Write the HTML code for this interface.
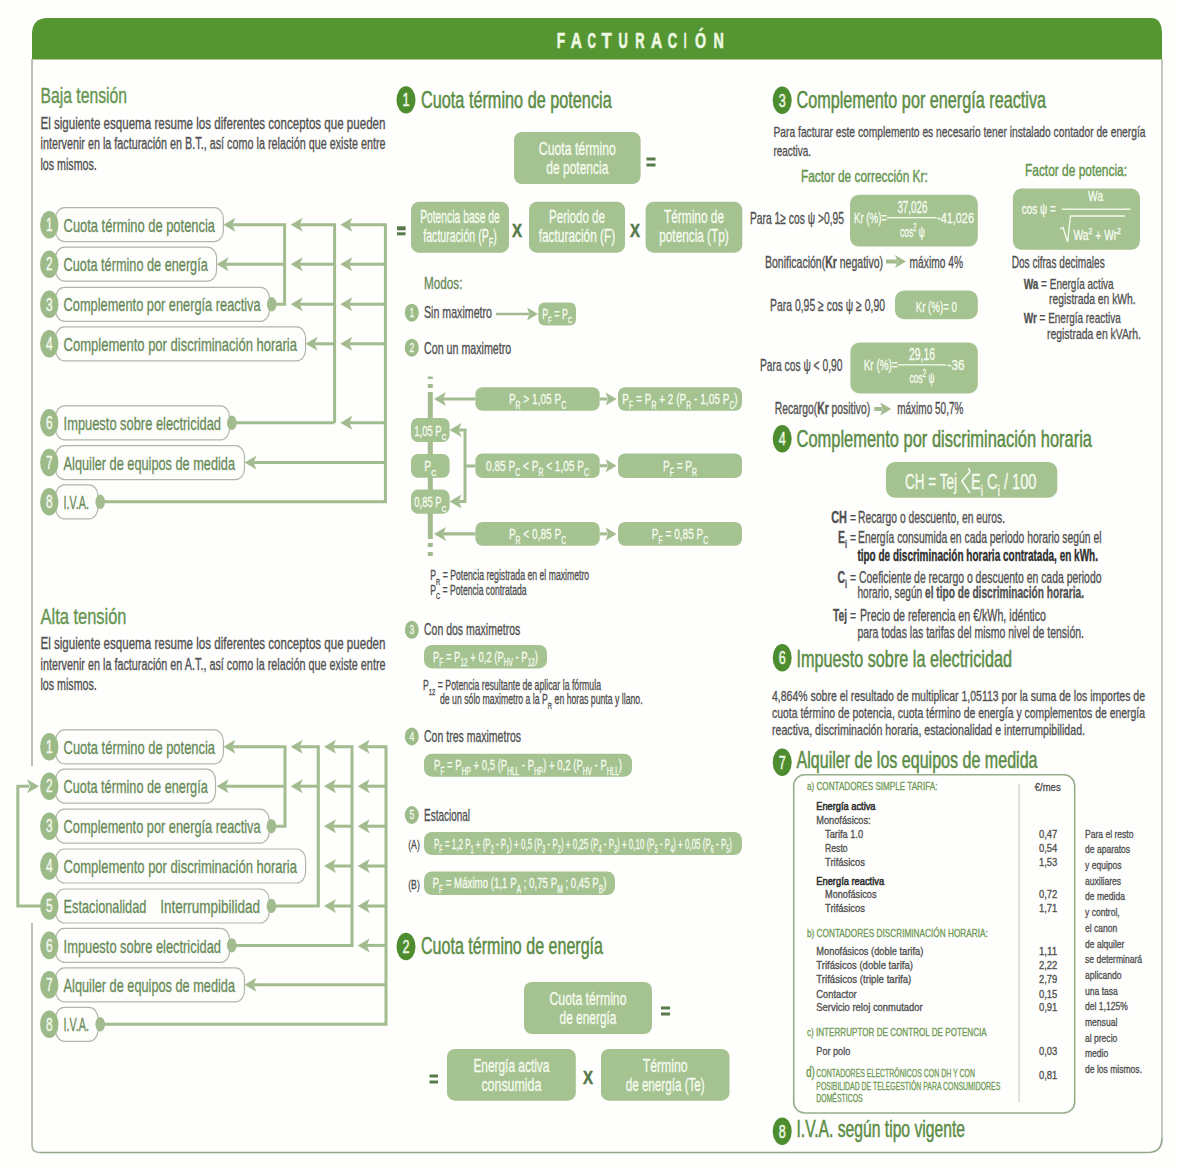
<!DOCTYPE html>
<html><head><meta charset="utf-8"><style>
html,body{margin:0;padding:0;background:#fff;}
svg{display:block;font-family:"Liberation Sans",sans-serif;}
</style></head><body>
<svg width="1179" height="1171" viewBox="0 0 1179 1171">
<rect width="1179" height="1171" fill="#fefefc"/>
<path d="M32 59.5 L32 34 Q32 18 48 18 L1151 18 Q1162 18 1162 34 L1162 59.5 Z" fill="#559632"/>
<text x="561.00" y="48.30" font-size="21.94" fill="#eef9e2" stroke="#eef9e2" stroke-width="0.6" font-weight="bold" text-anchor="middle" textLength="8.40" lengthAdjust="spacingAndGlyphs"><tspan>F</tspan></text>
<text x="576.40" y="48.30" font-size="21.94" fill="#eef9e2" stroke="#eef9e2" stroke-width="0.6" font-weight="bold" text-anchor="middle" textLength="11.20" lengthAdjust="spacingAndGlyphs"><tspan>A</tspan></text>
<text x="591.80" y="48.30" font-size="21.94" fill="#eef9e2" stroke="#eef9e2" stroke-width="0.6" font-weight="bold" text-anchor="middle" textLength="8.40" lengthAdjust="spacingAndGlyphs"><tspan>C</tspan></text>
<text x="606.70" y="48.30" font-size="21.94" fill="#eef9e2" stroke="#eef9e2" stroke-width="0.6" font-weight="bold" text-anchor="middle" textLength="10.20" lengthAdjust="spacingAndGlyphs"><tspan>T</tspan></text>
<text x="623.05" y="48.30" font-size="21.94" fill="#eef9e2" stroke="#eef9e2" stroke-width="0.6" font-weight="bold" text-anchor="middle" textLength="9.30" lengthAdjust="spacingAndGlyphs"><tspan>U</tspan></text>
<text x="639.85" y="48.30" font-size="21.94" fill="#eef9e2" stroke="#eef9e2" stroke-width="0.6" font-weight="bold" text-anchor="middle" textLength="9.30" lengthAdjust="spacingAndGlyphs"><tspan>R</tspan></text>
<text x="656.60" y="48.30" font-size="21.94" fill="#eef9e2" stroke="#eef9e2" stroke-width="0.6" font-weight="bold" text-anchor="middle" textLength="11.20" lengthAdjust="spacingAndGlyphs"><tspan>A</tspan></text>
<text x="672.50" y="48.30" font-size="21.94" fill="#eef9e2" stroke="#eef9e2" stroke-width="0.6" font-weight="bold" text-anchor="middle" textLength="9.40" lengthAdjust="spacingAndGlyphs"><tspan>C</tspan></text>
<text x="685.10" y="48.30" font-size="21.94" fill="#eef9e2" stroke="#eef9e2" stroke-width="0.6" font-weight="bold" text-anchor="middle" textLength="2.80" lengthAdjust="spacingAndGlyphs"><tspan>I</tspan></text>
<text x="700.45" y="48.30" font-size="21.94" fill="#eef9e2" stroke="#eef9e2" stroke-width="0.6" font-weight="bold" text-anchor="middle" textLength="11.10" lengthAdjust="spacingAndGlyphs"><tspan>Ó</tspan></text>
<text x="718.65" y="48.30" font-size="21.94" fill="#eef9e2" stroke="#eef9e2" stroke-width="0.6" font-weight="bold" text-anchor="middle" textLength="10.30" lengthAdjust="spacingAndGlyphs"><tspan>N</tspan></text>
<path d="M32 59 L32 766" stroke="#a9b5a3" stroke-width="1.6" fill="none"/>
<path d="M32 923 L32 1145 Q32 1152.5 39.5 1152.5" stroke="#a9b5a3" stroke-width="1.6" fill="none"/>
<path d="M39.5 1152.5 L1148 1152.5 Q1162 1152.5 1162 1138" stroke="#93a58a" stroke-width="1.6" fill="none"/>
<path d="M1162 1138 L1162 59" stroke="#b7bdb1" stroke-width="1.6" fill="none"/>
<text x="40.50" y="102.90" font-size="22.79" fill="#669650" stroke="#669650" stroke-width="0.4" textLength="86.50" lengthAdjust="spacingAndGlyphs"><tspan>Baja tensión</tspan></text>
<text x="40.50" y="128.90" font-size="15.77" fill="#505050" stroke="#505050" stroke-width="0.32" textLength="345.00" lengthAdjust="spacingAndGlyphs"><tspan>El siguiente esquema resume los diferentes conceptos que pueden</tspan></text>
<text x="40.50" y="149.40" font-size="15.77" fill="#505050" stroke="#505050" stroke-width="0.32" textLength="345.00" lengthAdjust="spacingAndGlyphs"><tspan>intervenir en la facturación en B.T., así como la relación que existe entre</tspan></text>
<text x="40.50" y="170.00" font-size="15.77" fill="#505050" stroke="#505050" stroke-width="0.32" textLength="56.20" lengthAdjust="spacingAndGlyphs"><tspan>los mismos.</tspan></text>
<path d="M232.40 224.70 L284.60 224.70 L284.60 304.30 L272.00 304.30" fill="none" stroke="#a3bc8f" stroke-width="3" stroke-linejoin="miter" stroke-linecap="butt"/>
<path d="M334.60 422.80 L232.00 422.80" fill="none" stroke="#a3bc8f" stroke-width="3" stroke-linejoin="miter" stroke-linecap="butt"/>
<path d="M284.60 264.20 L225.60 264.20" fill="none" stroke="#a3bc8f" stroke-width="3" stroke-linejoin="miter" stroke-linecap="butt"/>
<path d="M223.40 224.70 L235.40 217.70 L232.40 224.70 L235.40 231.70Z" fill="#a3bc8f"/>
<path d="M216.60 264.20 L228.60 257.20 L225.60 264.20 L228.60 271.20Z" fill="#a3bc8f"/>
<path d="M299.70 224.70 L334.60 224.70 L334.60 422.80" fill="none" stroke="#a3bc8f" stroke-width="3" stroke-linejoin="miter" stroke-linecap="butt"/>
<path d="M334.60 264.20 L299.70 264.20" fill="none" stroke="#a3bc8f" stroke-width="3" stroke-linejoin="miter" stroke-linecap="butt"/>
<path d="M290.70 264.20 L302.70 257.20 L299.70 264.20 L302.70 271.20Z" fill="#a3bc8f"/>
<path d="M334.60 304.30 L299.70 304.30" fill="none" stroke="#a3bc8f" stroke-width="3" stroke-linejoin="miter" stroke-linecap="butt"/>
<path d="M290.70 304.30 L302.70 297.30 L299.70 304.30 L302.70 311.30Z" fill="#a3bc8f"/>
<path d="M290.70 224.70 L302.70 217.70 L299.70 224.70 L302.70 231.70Z" fill="#a3bc8f"/>
<path d="M334.60 343.80 L314.60 343.80" fill="none" stroke="#a3bc8f" stroke-width="3" stroke-linejoin="miter" stroke-linecap="butt"/>
<path d="M305.60 343.80 L317.60 336.80 L314.60 343.80 L317.60 350.80Z" fill="#a3bc8f"/>
<path d="M349.30 224.70 L385.40 224.70 L385.40 501.80 L100.00 501.80" fill="none" stroke="#a3bc8f" stroke-width="3" stroke-linejoin="miter" stroke-linecap="butt"/>
<path d="M340.30 224.70 L352.30 217.70 L349.30 224.70 L352.30 231.70Z" fill="#a3bc8f"/>
<path d="M385.40 264.20 L349.30 264.20" fill="none" stroke="#a3bc8f" stroke-width="3" stroke-linejoin="miter" stroke-linecap="butt"/>
<path d="M340.30 264.20 L352.30 257.20 L349.30 264.20 L352.30 271.20Z" fill="#a3bc8f"/>
<path d="M385.40 304.30 L349.30 304.30" fill="none" stroke="#a3bc8f" stroke-width="3" stroke-linejoin="miter" stroke-linecap="butt"/>
<path d="M340.30 304.30 L352.30 297.30 L349.30 304.30 L352.30 311.30Z" fill="#a3bc8f"/>
<path d="M385.40 343.80 L349.30 343.80" fill="none" stroke="#a3bc8f" stroke-width="3" stroke-linejoin="miter" stroke-linecap="butt"/>
<path d="M340.30 343.80 L352.30 336.80 L349.30 343.80 L352.30 350.80Z" fill="#a3bc8f"/>
<path d="M385.40 422.80 L349.30 422.80" fill="none" stroke="#a3bc8f" stroke-width="3" stroke-linejoin="miter" stroke-linecap="butt"/>
<path d="M340.30 422.80 L352.30 415.80 L349.30 422.80 L352.30 429.80Z" fill="#a3bc8f"/>
<path d="M385.40 462.60 L253.50 462.60" fill="none" stroke="#a3bc8f" stroke-width="3" stroke-linejoin="miter" stroke-linecap="butt"/>
<path d="M244.50 462.60 L256.50 455.60 L253.50 462.60 L256.50 469.60Z" fill="#a3bc8f"/>
<rect x="55.50" y="207.70" width="167.90" height="34.00" rx="9" ry="11" fill="#fdfefb" stroke="#b0b7aa" stroke-width="1.2"/>
<ellipse cx="49.30" cy="224.70" rx="9.2" ry="13.8" fill="#9dbb89"/>
<text x="49.30" y="230.90" font-size="18.19" fill="#f4f9ee" stroke="#f4f9ee" stroke-width="0.45" text-anchor="middle" textLength="6.62" lengthAdjust="spacingAndGlyphs"><tspan>1</tspan></text>
<text x="63.60" y="231.80" font-size="19.15" fill="#688a58" stroke="#688a58" stroke-width="0.32" textLength="151.40" lengthAdjust="spacingAndGlyphs"><tspan>Cuota término de potencia</tspan></text>
<rect x="55.50" y="247.20" width="161.10" height="34.00" rx="9" ry="11" fill="#fdfefb" stroke="#b0b7aa" stroke-width="1.2"/>
<ellipse cx="49.30" cy="264.20" rx="9.2" ry="13.8" fill="#9dbb89"/>
<text x="49.30" y="270.40" font-size="18.19" fill="#f4f9ee" stroke="#f4f9ee" stroke-width="0.45" text-anchor="middle" textLength="6.62" lengthAdjust="spacingAndGlyphs"><tspan>2</tspan></text>
<text x="63.60" y="271.30" font-size="19.15" fill="#688a58" stroke="#688a58" stroke-width="0.32" textLength="144.20" lengthAdjust="spacingAndGlyphs"><tspan>Cuota término de energía</tspan></text>
<rect x="55.50" y="287.30" width="214.00" height="34.00" rx="9" ry="11" fill="#fdfefb" stroke="#b0b7aa" stroke-width="1.2"/>
<ellipse cx="49.30" cy="304.30" rx="9.2" ry="13.8" fill="#9dbb89"/>
<text x="49.30" y="310.50" font-size="18.19" fill="#f4f9ee" stroke="#f4f9ee" stroke-width="0.45" text-anchor="middle" textLength="6.62" lengthAdjust="spacingAndGlyphs"><tspan>3</tspan></text>
<text x="63.60" y="311.40" font-size="19.15" fill="#688a58" stroke="#688a58" stroke-width="0.32" textLength="197.00" lengthAdjust="spacingAndGlyphs"><tspan>Complemento por energía reactiva</tspan></text>
<ellipse cx="271.70" cy="304.30" rx="4.8" ry="7.2" fill="#a3bc8f"/>
<rect x="55.50" y="326.80" width="250.10" height="34.00" rx="9" ry="11" fill="#fdfefb" stroke="#b0b7aa" stroke-width="1.2"/>
<ellipse cx="49.30" cy="343.80" rx="9.2" ry="13.8" fill="#9dbb89"/>
<text x="49.30" y="350.00" font-size="18.19" fill="#f4f9ee" stroke="#f4f9ee" stroke-width="0.45" text-anchor="middle" textLength="6.62" lengthAdjust="spacingAndGlyphs"><tspan>4</tspan></text>
<text x="63.60" y="350.90" font-size="19.15" fill="#688a58" stroke="#688a58" stroke-width="0.32" textLength="233.40" lengthAdjust="spacingAndGlyphs"><tspan>Complemento por discriminación horaria</tspan></text>
<rect x="55.50" y="405.80" width="174.10" height="34.00" rx="9" ry="11" fill="#fdfefb" stroke="#b0b7aa" stroke-width="1.2"/>
<ellipse cx="49.30" cy="422.80" rx="9.2" ry="13.8" fill="#9dbb89"/>
<text x="49.30" y="429.00" font-size="18.19" fill="#f4f9ee" stroke="#f4f9ee" stroke-width="0.45" text-anchor="middle" textLength="6.62" lengthAdjust="spacingAndGlyphs"><tspan>6</tspan></text>
<text x="63.60" y="429.90" font-size="19.15" fill="#688a58" stroke="#688a58" stroke-width="0.32" textLength="157.40" lengthAdjust="spacingAndGlyphs"><tspan>Impuesto sobre electricidad</tspan></text>
<ellipse cx="231.80" cy="422.80" rx="4.8" ry="7.2" fill="#a3bc8f"/>
<rect x="55.50" y="445.60" width="189.00" height="34.00" rx="9" ry="11" fill="#fdfefb" stroke="#b0b7aa" stroke-width="1.2"/>
<ellipse cx="49.30" cy="462.60" rx="9.2" ry="13.8" fill="#9dbb89"/>
<text x="49.30" y="468.80" font-size="18.19" fill="#f4f9ee" stroke="#f4f9ee" stroke-width="0.45" text-anchor="middle" textLength="6.62" lengthAdjust="spacingAndGlyphs"><tspan>7</tspan></text>
<text x="63.60" y="469.70" font-size="19.15" fill="#688a58" stroke="#688a58" stroke-width="0.32" textLength="171.40" lengthAdjust="spacingAndGlyphs"><tspan>Alquiler de equipos de medida</tspan></text>
<rect x="55.50" y="484.80" width="42.50" height="34.00" rx="9" ry="11" fill="#fdfefb" stroke="#b0b7aa" stroke-width="1.2"/>
<ellipse cx="49.30" cy="501.80" rx="9.2" ry="13.8" fill="#9dbb89"/>
<text x="49.30" y="508.00" font-size="18.19" fill="#f4f9ee" stroke="#f4f9ee" stroke-width="0.45" text-anchor="middle" textLength="6.62" lengthAdjust="spacingAndGlyphs"><tspan>8</tspan></text>
<text x="63.60" y="508.90" font-size="19.15" fill="#688a58" stroke="#688a58" stroke-width="0.32" textLength="25.40" lengthAdjust="spacingAndGlyphs"><tspan>I.V.A.</tspan></text>
<ellipse cx="100.20" cy="501.80" rx="4.8" ry="7.2" fill="#a3bc8f"/>
<rect x="397.00" y="226.30" width="8.50" height="3.00" rx="0" ry="0" fill="#587a4b"/>
<rect x="397.00" y="232.30" width="8.50" height="3.00" rx="0" ry="0" fill="#587a4b"/>
<text x="40.50" y="623.50" font-size="22.79" fill="#669650" stroke="#669650" stroke-width="0.4" textLength="86.00" lengthAdjust="spacingAndGlyphs"><tspan>Alta tensión</tspan></text>
<text x="40.50" y="649.10" font-size="15.77" fill="#505050" stroke="#505050" stroke-width="0.32" textLength="345.00" lengthAdjust="spacingAndGlyphs"><tspan>El siguiente esquema resume los diferentes conceptos que pueden</tspan></text>
<text x="40.50" y="669.60" font-size="15.77" fill="#505050" stroke="#505050" stroke-width="0.32" textLength="345.00" lengthAdjust="spacingAndGlyphs"><tspan>intervenir en la facturación en A.T., así como la relación que existe entre</tspan></text>
<text x="40.50" y="690.20" font-size="15.77" fill="#505050" stroke="#505050" stroke-width="0.32" textLength="56.20" lengthAdjust="spacingAndGlyphs"><tspan>los mismos.</tspan></text>
<path d="M232.40 746.80 L285.00 746.80 L285.00 826.20 L272.00 826.20" fill="none" stroke="#a3bc8f" stroke-width="3" stroke-linejoin="miter" stroke-linecap="butt"/>
<path d="M285.00 786.20 L225.60 786.20" fill="none" stroke="#a3bc8f" stroke-width="3" stroke-linejoin="miter" stroke-linecap="butt"/>
<path d="M223.40 746.80 L235.40 739.80 L232.40 746.80 L235.40 753.80Z" fill="#a3bc8f"/>
<path d="M216.60 786.20 L228.60 779.20 L225.60 786.20 L228.60 793.20Z" fill="#a3bc8f"/>
<path d="M299.70 746.80 L318.30 746.80 L318.30 906.00 L272.00 906.00" fill="none" stroke="#a3bc8f" stroke-width="3" stroke-linejoin="miter" stroke-linecap="butt"/>
<path d="M290.70 746.80 L302.70 739.80 L299.70 746.80 L302.70 753.80Z" fill="#a3bc8f"/>
<path d="M318.30 786.20 L299.70 786.20" fill="none" stroke="#a3bc8f" stroke-width="3" stroke-linejoin="miter" stroke-linecap="butt"/>
<path d="M290.70 786.20 L302.70 779.20 L299.70 786.20 L302.70 793.20Z" fill="#a3bc8f"/>
<path d="M333.00 746.80 L352.00 746.80 L352.00 945.40 L232.00 945.40" fill="none" stroke="#a3bc8f" stroke-width="3" stroke-linejoin="miter" stroke-linecap="butt"/>
<path d="M324.00 746.80 L336.00 739.80 L333.00 746.80 L336.00 753.80Z" fill="#a3bc8f"/>
<path d="M352.00 786.20 L333.00 786.20" fill="none" stroke="#a3bc8f" stroke-width="3" stroke-linejoin="miter" stroke-linecap="butt"/>
<path d="M324.00 786.20 L336.00 779.20 L333.00 786.20 L336.00 793.20Z" fill="#a3bc8f"/>
<path d="M352.00 826.20 L333.00 826.20" fill="none" stroke="#a3bc8f" stroke-width="3" stroke-linejoin="miter" stroke-linecap="butt"/>
<path d="M324.00 826.20 L336.00 819.20 L333.00 826.20 L336.00 833.20Z" fill="#a3bc8f"/>
<path d="M352.00 866.00 L333.00 866.00" fill="none" stroke="#a3bc8f" stroke-width="3" stroke-linejoin="miter" stroke-linecap="butt"/>
<path d="M324.00 866.00 L336.00 859.00 L333.00 866.00 L336.00 873.00Z" fill="#a3bc8f"/>
<path d="M352.00 906.00 L333.00 906.00" fill="none" stroke="#a3bc8f" stroke-width="3" stroke-linejoin="miter" stroke-linecap="butt"/>
<path d="M324.00 906.00 L336.00 899.00 L333.00 906.00 L336.00 913.00Z" fill="#a3bc8f"/>
<path d="M366.70 746.80 L386.00 746.80 L386.00 1024.30 L100.00 1024.30" fill="none" stroke="#a3bc8f" stroke-width="3" stroke-linejoin="miter" stroke-linecap="butt"/>
<path d="M357.70 746.80 L369.70 739.80 L366.70 746.80 L369.70 753.80Z" fill="#a3bc8f"/>
<path d="M386.00 786.20 L366.70 786.20" fill="none" stroke="#a3bc8f" stroke-width="3" stroke-linejoin="miter" stroke-linecap="butt"/>
<path d="M357.70 786.20 L369.70 779.20 L366.70 786.20 L369.70 793.20Z" fill="#a3bc8f"/>
<path d="M386.00 826.20 L366.70 826.20" fill="none" stroke="#a3bc8f" stroke-width="3" stroke-linejoin="miter" stroke-linecap="butt"/>
<path d="M357.70 826.20 L369.70 819.20 L366.70 826.20 L369.70 833.20Z" fill="#a3bc8f"/>
<path d="M386.00 866.00 L366.70 866.00" fill="none" stroke="#a3bc8f" stroke-width="3" stroke-linejoin="miter" stroke-linecap="butt"/>
<path d="M357.70 866.00 L369.70 859.00 L366.70 866.00 L369.70 873.00Z" fill="#a3bc8f"/>
<path d="M386.00 906.00 L366.70 906.00" fill="none" stroke="#a3bc8f" stroke-width="3" stroke-linejoin="miter" stroke-linecap="butt"/>
<path d="M357.70 906.00 L369.70 899.00 L366.70 906.00 L369.70 913.00Z" fill="#a3bc8f"/>
<path d="M386.00 945.40 L366.70 945.40" fill="none" stroke="#a3bc8f" stroke-width="3" stroke-linejoin="miter" stroke-linecap="butt"/>
<path d="M357.70 945.40 L369.70 938.40 L366.70 945.40 L369.70 952.40Z" fill="#a3bc8f"/>
<path d="M386.00 984.80 L253.50 984.80" fill="none" stroke="#a3bc8f" stroke-width="3" stroke-linejoin="miter" stroke-linecap="butt"/>
<path d="M244.50 984.80 L256.50 977.80 L253.50 984.80 L256.50 991.80Z" fill="#a3bc8f"/>
<path d="M41.00 906.00 L17.80 906.00 L17.80 786.20 L29.00 786.20" fill="none" stroke="#a3bc8f" stroke-width="3" stroke-linejoin="miter" stroke-linecap="butt"/>
<path d="M39.00 786.20 L27.00 779.20 L30.00 786.20 L27.00 793.20Z" fill="#a3bc8f"/>
<rect x="55.50" y="729.80" width="167.90" height="34.00" rx="9" ry="11" fill="#fdfefb" stroke="#b0b7aa" stroke-width="1.2"/>
<ellipse cx="49.30" cy="746.80" rx="9.2" ry="13.8" fill="#9dbb89"/>
<text x="49.30" y="753.00" font-size="18.19" fill="#f4f9ee" stroke="#f4f9ee" stroke-width="0.45" text-anchor="middle" textLength="6.62" lengthAdjust="spacingAndGlyphs"><tspan>1</tspan></text>
<text x="63.60" y="753.90" font-size="19.15" fill="#688a58" stroke="#688a58" stroke-width="0.32" textLength="151.40" lengthAdjust="spacingAndGlyphs"><tspan>Cuota término de potencia</tspan></text>
<rect x="55.50" y="769.20" width="160.00" height="34.00" rx="9" ry="11" fill="#fdfefb" stroke="#b0b7aa" stroke-width="1.2"/>
<ellipse cx="49.30" cy="786.20" rx="9.2" ry="13.8" fill="#9dbb89"/>
<text x="49.30" y="792.40" font-size="18.19" fill="#f4f9ee" stroke="#f4f9ee" stroke-width="0.45" text-anchor="middle" textLength="6.62" lengthAdjust="spacingAndGlyphs"><tspan>2</tspan></text>
<text x="63.60" y="793.30" font-size="19.15" fill="#688a58" stroke="#688a58" stroke-width="0.32" textLength="144.20" lengthAdjust="spacingAndGlyphs"><tspan>Cuota término de energía</tspan></text>
<rect x="55.50" y="809.20" width="213.70" height="34.00" rx="9" ry="11" fill="#fdfefb" stroke="#b0b7aa" stroke-width="1.2"/>
<ellipse cx="49.30" cy="826.20" rx="9.2" ry="13.8" fill="#9dbb89"/>
<text x="49.30" y="832.40" font-size="18.19" fill="#f4f9ee" stroke="#f4f9ee" stroke-width="0.45" text-anchor="middle" textLength="6.62" lengthAdjust="spacingAndGlyphs"><tspan>3</tspan></text>
<text x="63.60" y="833.30" font-size="19.15" fill="#688a58" stroke="#688a58" stroke-width="0.32" textLength="197.00" lengthAdjust="spacingAndGlyphs"><tspan>Complemento por energía reactiva</tspan></text>
<ellipse cx="271.40" cy="826.20" rx="4.8" ry="7.2" fill="#a3bc8f"/>
<rect x="55.50" y="849.00" width="250.10" height="34.00" rx="9" ry="11" fill="#fdfefb" stroke="#b0b7aa" stroke-width="1.2"/>
<ellipse cx="49.30" cy="866.00" rx="9.2" ry="13.8" fill="#9dbb89"/>
<text x="49.30" y="872.20" font-size="18.19" fill="#f4f9ee" stroke="#f4f9ee" stroke-width="0.45" text-anchor="middle" textLength="6.62" lengthAdjust="spacingAndGlyphs"><tspan>4</tspan></text>
<text x="63.60" y="873.10" font-size="19.15" fill="#688a58" stroke="#688a58" stroke-width="0.32" textLength="233.40" lengthAdjust="spacingAndGlyphs"><tspan>Complemento por discriminación horaria</tspan></text>
<rect x="55.50" y="889.00" width="213.70" height="34.00" rx="9" ry="11" fill="#fdfefb" stroke="#b0b7aa" stroke-width="1.2"/>
<ellipse cx="49.30" cy="906.00" rx="9.2" ry="13.8" fill="#9dbb89"/>
<text x="49.30" y="912.20" font-size="18.19" fill="#f4f9ee" stroke="#f4f9ee" stroke-width="0.45" text-anchor="middle" textLength="6.62" lengthAdjust="spacingAndGlyphs"><tspan>5</tspan></text>
<text x="63.60" y="913.10" font-size="19.15" fill="#688a58" stroke="#688a58" stroke-width="0.32" textLength="82.70" lengthAdjust="spacingAndGlyphs"><tspan>Estacionalidad</tspan></text>
<ellipse cx="271.40" cy="906.00" rx="4.8" ry="7.2" fill="#a3bc8f"/>
<text x="160.30" y="913.10" font-size="19.15" fill="#688a58" stroke="#688a58" stroke-width="0.32" textLength="99.70" lengthAdjust="spacingAndGlyphs"><tspan>Interrumpibilidad</tspan></text>
<rect x="55.50" y="928.40" width="174.10" height="34.00" rx="9" ry="11" fill="#fdfefb" stroke="#b0b7aa" stroke-width="1.2"/>
<ellipse cx="49.30" cy="945.40" rx="9.2" ry="13.8" fill="#9dbb89"/>
<text x="49.30" y="951.60" font-size="18.19" fill="#f4f9ee" stroke="#f4f9ee" stroke-width="0.45" text-anchor="middle" textLength="6.62" lengthAdjust="spacingAndGlyphs"><tspan>6</tspan></text>
<text x="63.60" y="952.50" font-size="19.15" fill="#688a58" stroke="#688a58" stroke-width="0.32" textLength="157.40" lengthAdjust="spacingAndGlyphs"><tspan>Impuesto sobre electricidad</tspan></text>
<ellipse cx="231.80" cy="945.40" rx="4.8" ry="7.2" fill="#a3bc8f"/>
<rect x="55.50" y="967.80" width="189.00" height="34.00" rx="9" ry="11" fill="#fdfefb" stroke="#b0b7aa" stroke-width="1.2"/>
<ellipse cx="49.30" cy="984.80" rx="9.2" ry="13.8" fill="#9dbb89"/>
<text x="49.30" y="991.00" font-size="18.19" fill="#f4f9ee" stroke="#f4f9ee" stroke-width="0.45" text-anchor="middle" textLength="6.62" lengthAdjust="spacingAndGlyphs"><tspan>7</tspan></text>
<text x="63.60" y="991.90" font-size="19.15" fill="#688a58" stroke="#688a58" stroke-width="0.32" textLength="171.40" lengthAdjust="spacingAndGlyphs"><tspan>Alquiler de equipos de medida</tspan></text>
<rect x="55.50" y="1007.30" width="42.50" height="34.00" rx="9" ry="11" fill="#fdfefb" stroke="#b0b7aa" stroke-width="1.2"/>
<ellipse cx="49.30" cy="1024.30" rx="9.2" ry="13.8" fill="#9dbb89"/>
<text x="49.30" y="1030.50" font-size="18.19" fill="#f4f9ee" stroke="#f4f9ee" stroke-width="0.45" text-anchor="middle" textLength="6.62" lengthAdjust="spacingAndGlyphs"><tspan>8</tspan></text>
<text x="63.60" y="1031.40" font-size="19.15" fill="#688a58" stroke="#688a58" stroke-width="0.32" textLength="25.40" lengthAdjust="spacingAndGlyphs"><tspan>I.V.A.</tspan></text>
<ellipse cx="100.20" cy="1024.30" rx="4.8" ry="7.2" fill="#a3bc8f"/>
<ellipse cx="406.00" cy="99.90" rx="9.5" ry="13.7" fill="#4e8d2f"/>
<text x="406.00" y="106.20" font-size="19.26" fill="#eef8e4" stroke="#eef8e4" stroke-width="0.5" text-anchor="middle" textLength="7.01" lengthAdjust="spacingAndGlyphs"><tspan>1</tspan></text>
<text x="421.00" y="107.50" font-size="23.11" fill="#5b8c45" stroke="#5b8c45" stroke-width="0.5" textLength="190.70" lengthAdjust="spacingAndGlyphs"><tspan>Cuota término de potencia</tspan></text>
<rect x="514.00" y="132.00" width="126.60" height="52.00" rx="8" ry="8" fill="#a5c291"/>
<text x="577.30" y="155.00" font-size="17.98" fill="#f6fcef" stroke="#f6fcef" stroke-width="0.32" text-anchor="middle" textLength="77.00" lengthAdjust="spacingAndGlyphs"><tspan>Cuota término</tspan></text>
<text x="577.30" y="173.70" font-size="17.98" fill="#f6fcef" stroke="#f6fcef" stroke-width="0.32" text-anchor="middle" textLength="62.00" lengthAdjust="spacingAndGlyphs"><tspan>de potencia</tspan></text>
<rect x="646.50" y="157.50" width="9.00" height="3.00" rx="0" ry="0" fill="#587a4b"/>
<rect x="646.50" y="163.50" width="9.00" height="3.00" rx="0" ry="0" fill="#587a4b"/>
<rect x="411.00" y="201.80" width="98.00" height="50.90" rx="8" ry="8" fill="#a5c291"/>
<text x="460.00" y="222.90" font-size="17.98" fill="#f6fcef" stroke="#f6fcef" stroke-width="0.32" text-anchor="middle" textLength="79.70" lengthAdjust="spacingAndGlyphs"><tspan>Potencia base de</tspan></text>
<text x="460.00" y="241.50" font-size="17.98" fill="#f6fcef" stroke="#f6fcef" stroke-width="0.32" text-anchor="middle" textLength="73.60" lengthAdjust="spacingAndGlyphs"><tspan>facturación (P</tspan><tspan font-size="12.23" dy="5.75">F</tspan><tspan dy="-5.75">)</tspan></text>
<text x="517.00" y="236.50" font-size="17.66" fill="#587a4b" stroke="#587a4b" stroke-width="0.5" font-weight="bold" text-anchor="middle" textLength="10.00" lengthAdjust="spacingAndGlyphs"><tspan>X</tspan></text>
<rect x="529.00" y="201.80" width="96.00" height="50.90" rx="8" ry="8" fill="#a5c291"/>
<text x="577.00" y="222.90" font-size="17.98" fill="#f6fcef" stroke="#f6fcef" stroke-width="0.32" text-anchor="middle" textLength="56.00" lengthAdjust="spacingAndGlyphs"><tspan>Periodo de</tspan></text>
<text x="577.00" y="241.50" font-size="17.98" fill="#f6fcef" stroke="#f6fcef" stroke-width="0.32" text-anchor="middle" textLength="76.60" lengthAdjust="spacingAndGlyphs"><tspan>facturación (F)</tspan></text>
<text x="635.00" y="236.50" font-size="17.66" fill="#587a4b" stroke="#587a4b" stroke-width="0.5" font-weight="bold" text-anchor="middle" textLength="10.00" lengthAdjust="spacingAndGlyphs"><tspan>X</tspan></text>
<rect x="645.60" y="201.80" width="96.70" height="50.90" rx="8" ry="8" fill="#a5c291"/>
<text x="694.00" y="222.90" font-size="17.98" fill="#f6fcef" stroke="#f6fcef" stroke-width="0.32" text-anchor="middle" textLength="60.00" lengthAdjust="spacingAndGlyphs"><tspan>Término de</tspan></text>
<text x="694.00" y="241.50" font-size="17.98" fill="#f6fcef" stroke="#f6fcef" stroke-width="0.32" text-anchor="middle" textLength="69.50" lengthAdjust="spacingAndGlyphs"><tspan>potencia (Tp)</tspan></text>
<rect x="397.00" y="227.30" width="8.50" height="3.00" rx="0" ry="0" fill="#587a4b"/>
<text x="424.00" y="289.00" font-size="16.59" fill="#688a58" stroke="#688a58" stroke-width="0.32" textLength="38.40" lengthAdjust="spacingAndGlyphs"><tspan>Modos:</tspan></text>
<ellipse cx="411.80" cy="312.70" rx="7" ry="9" fill="#9dbb89"/>
<text x="411.80" y="317.00" font-size="12.84" fill="#f4f9ee" stroke="#f4f9ee" stroke-width="0.32" text-anchor="middle" textLength="4.81" lengthAdjust="spacingAndGlyphs"><tspan>1</tspan></text>
<text x="424.00" y="318.40" font-size="16.77" fill="#505050" stroke="#505050" stroke-width="0.32" textLength="68.00" lengthAdjust="spacingAndGlyphs"><tspan>Sin maximetro</tspan></text>
<path d="M496.00 314.00 L529.00 314.00" fill="none" stroke="#a3bc8f" stroke-width="2.6" stroke-linejoin="miter" stroke-linecap="butt"/>
<path d="M538.00 314.00 L527.00 307.50 L529.50 314.00 L527.00 320.50Z" fill="#a3bc8f"/>
<rect x="538.40" y="302.60" width="37.60" height="23.00" rx="6" ry="6" fill="#a5c291"/>
<text x="557.20" y="318.50" font-size="14.45" fill="#f6fcef" stroke="#f6fcef" stroke-width="0.32" text-anchor="middle" textLength="30.00" lengthAdjust="spacingAndGlyphs"><tspan>P</tspan><tspan font-size="9.83" dy="4.62">F</tspan><tspan dy="-4.62"> = P</tspan><tspan font-size="9.83" dy="4.62">C</tspan></text>
<ellipse cx="411.80" cy="347.70" rx="7" ry="9" fill="#9dbb89"/>
<text x="411.80" y="352.00" font-size="12.84" fill="#f4f9ee" stroke="#f4f9ee" stroke-width="0.32" text-anchor="middle" textLength="4.81" lengthAdjust="spacingAndGlyphs"><tspan>2</tspan></text>
<text x="424.00" y="354.10" font-size="16.77" fill="#505050" stroke="#505050" stroke-width="0.32" textLength="87.20" lengthAdjust="spacingAndGlyphs"><tspan>Con un maximetro</tspan></text>
<rect x="427.8" y="392" width="5" height="147" fill="#a3bc8f"/>
<rect x="427.8" y="376.5" width="5" height="2.5" fill="#a3bc8f"/>
<rect x="427.8" y="384" width="5" height="4" fill="#a3bc8f"/>
<rect x="427.8" y="543" width="5" height="4" fill="#a3bc8f"/>
<rect x="427.8" y="552" width="5" height="4" fill="#a3bc8f"/>
<rect x="411.00" y="418.00" width="38.60" height="24.00" rx="7" ry="7" fill="#a5c291"/>
<text x="430.30" y="435.50" font-size="14.45" fill="#f6fcef" stroke="#f6fcef" stroke-width="0.32" text-anchor="middle" textLength="32.00" lengthAdjust="spacingAndGlyphs"><tspan>1,05 P</tspan><tspan font-size="9.83" dy="4.62">C</tspan></text>
<rect x="411.00" y="454.00" width="38.60" height="23.70" rx="7" ry="7" fill="#a5c291"/>
<text x="430.30" y="471.00" font-size="14.45" fill="#f6fcef" stroke="#f6fcef" stroke-width="0.32" text-anchor="middle" textLength="12.00" lengthAdjust="spacingAndGlyphs"><tspan>P</tspan><tspan font-size="9.83" dy="4.62">C</tspan></text>
<rect x="411.00" y="489.60" width="38.60" height="24.20" rx="7" ry="7" fill="#a5c291"/>
<text x="430.30" y="507.00" font-size="14.45" fill="#f6fcef" stroke="#f6fcef" stroke-width="0.32" text-anchor="middle" textLength="32.00" lengthAdjust="spacingAndGlyphs"><tspan>0,85 P</tspan><tspan font-size="9.83" dy="4.62">C</tspan></text>
<rect x="475.40" y="387.30" width="124.30" height="23.50" rx="7" ry="7" fill="#a5c291"/>
<rect x="618.00" y="387.30" width="124.00" height="23.50" rx="7" ry="7" fill="#a5c291"/>
<path d="M599.70 399.05 L607.60 399.05" fill="none" stroke="#a3bc8f" stroke-width="3" stroke-linejoin="miter" stroke-linecap="butt"/>
<path d="M616.60 399.05 L605.60 392.55 L608.10 399.05 L605.60 405.55Z" fill="#a3bc8f"/>
<text x="537.50" y="404.05" font-size="14.98" fill="#f6fcef" stroke="#f6fcef" stroke-width="0.32" text-anchor="middle" textLength="57.25" lengthAdjust="spacingAndGlyphs"><tspan>P</tspan><tspan font-size="10.19" dy="4.79">R</tspan><tspan dy="-4.79"> &gt; 1,05 P</tspan><tspan font-size="10.19" dy="4.79">C</tspan></text>
<text x="680.00" y="404.05" font-size="14.98" fill="#f6fcef" stroke="#f6fcef" stroke-width="0.32" text-anchor="middle" textLength="115.40" lengthAdjust="spacingAndGlyphs"><tspan>P</tspan><tspan font-size="10.19" dy="4.79">F</tspan><tspan dy="-4.79"> = P</tspan><tspan font-size="10.19" dy="4.79">R</tspan><tspan dy="-4.79"> + 2 (P</tspan><tspan font-size="10.19" dy="4.79">R</tspan><tspan dy="-4.79"> - 1,05 P</tspan><tspan font-size="10.19" dy="4.79">C</tspan><tspan dy="-4.79">)</tspan></text>
<rect x="475.40" y="453.50" width="124.30" height="24.50" rx="7" ry="7" fill="#a5c291"/>
<rect x="618.00" y="453.50" width="124.00" height="24.50" rx="7" ry="7" fill="#a5c291"/>
<path d="M599.70 465.75 L607.60 465.75" fill="none" stroke="#a3bc8f" stroke-width="3" stroke-linejoin="miter" stroke-linecap="butt"/>
<path d="M616.60 465.75 L605.60 459.25 L608.10 465.75 L605.60 472.25Z" fill="#a3bc8f"/>
<text x="537.50" y="470.75" font-size="14.98" fill="#f6fcef" stroke="#f6fcef" stroke-width="0.32" text-anchor="middle" textLength="102.83" lengthAdjust="spacingAndGlyphs"><tspan>0.85 P</tspan><tspan font-size="10.19" dy="4.79">C</tspan><tspan dy="-4.79"> &lt; P</tspan><tspan font-size="10.19" dy="4.79">R</tspan><tspan dy="-4.79"> &lt; 1,05 P</tspan><tspan font-size="10.19" dy="4.79">C</tspan></text>
<text x="680.00" y="470.75" font-size="14.98" fill="#f6fcef" stroke="#f6fcef" stroke-width="0.32" text-anchor="middle" textLength="34.07" lengthAdjust="spacingAndGlyphs"><tspan>P</tspan><tspan font-size="10.19" dy="4.79">F</tspan><tspan dy="-4.79"> = P</tspan><tspan font-size="10.19" dy="4.79">R</tspan></text>
<rect x="475.40" y="522.00" width="124.30" height="23.80" rx="7" ry="7" fill="#a5c291"/>
<rect x="618.00" y="522.00" width="124.00" height="23.80" rx="7" ry="7" fill="#a5c291"/>
<path d="M599.70 533.90 L607.60 533.90" fill="none" stroke="#a3bc8f" stroke-width="3" stroke-linejoin="miter" stroke-linecap="butt"/>
<path d="M616.60 533.90 L605.60 527.40 L608.10 533.90 L605.60 540.40Z" fill="#a3bc8f"/>
<text x="537.50" y="538.90" font-size="14.98" fill="#f6fcef" stroke="#f6fcef" stroke-width="0.32" text-anchor="middle" textLength="57.25" lengthAdjust="spacingAndGlyphs"><tspan>P</tspan><tspan font-size="10.19" dy="4.79">R</tspan><tspan dy="-4.79"> &lt; 0,85 P</tspan><tspan font-size="10.19" dy="4.79">C</tspan></text>
<text x="680.00" y="538.90" font-size="14.98" fill="#f6fcef" stroke="#f6fcef" stroke-width="0.32" text-anchor="middle" textLength="56.49" lengthAdjust="spacingAndGlyphs"><tspan>P</tspan><tspan font-size="10.19" dy="4.79">F</tspan><tspan dy="-4.79"> = 0,85 P</tspan><tspan font-size="10.19" dy="4.79">C</tspan></text>
<path d="M475.40 399.00 L443.00 399.00" fill="none" stroke="#a3bc8f" stroke-width="3.2" stroke-linejoin="miter" stroke-linecap="butt"/>
<path d="M434.00 399.00 L446.00 392.00 L443.00 399.00 L446.00 406.00Z" fill="#a3bc8f"/>
<path d="M475.40 533.90 L443.00 533.90" fill="none" stroke="#a3bc8f" stroke-width="3.2" stroke-linejoin="miter" stroke-linecap="butt"/>
<path d="M434.00 533.90 L446.00 526.90 L443.00 533.90 L446.00 540.90Z" fill="#a3bc8f"/>
<path d="M475.40 466.00 L465.00 466.00" fill="none" stroke="#a3bc8f" stroke-width="3" stroke-linejoin="miter" stroke-linecap="butt"/>
<path d="M458.60 430.00 L465.00 430.00 L465.00 501.50 L458.60 501.50" fill="none" stroke="#a3bc8f" stroke-width="3" stroke-linejoin="miter" stroke-linecap="butt"/>
<path d="M449.60 430.00 L461.60 423.00 L458.60 430.00 L461.60 437.00Z" fill="#a3bc8f"/>
<path d="M449.60 501.50 L461.60 494.50 L458.60 501.50 L461.60 508.50Z" fill="#a3bc8f"/>
<text x="430.20" y="580.30" font-size="13.98" fill="#505050" stroke="#505050" stroke-width="0.32" textLength="159.00" lengthAdjust="spacingAndGlyphs"><tspan>P</tspan><tspan font-size="9.51" dy="4.47">R</tspan><tspan dy="-4.47"> = Potencia registrada en el maximetro</tspan></text>
<text x="430.20" y="594.60" font-size="13.98" fill="#505050" stroke="#505050" stroke-width="0.32" textLength="96.30" lengthAdjust="spacingAndGlyphs"><tspan>P</tspan><tspan font-size="9.51" dy="4.47">C</tspan><tspan dy="-4.47"> = Potencia contratada</tspan></text>
<ellipse cx="411.80" cy="629.80" rx="7" ry="9" fill="#9dbb89"/>
<text x="411.80" y="634.10" font-size="12.84" fill="#f4f9ee" stroke="#f4f9ee" stroke-width="0.32" text-anchor="middle" textLength="4.81" lengthAdjust="spacingAndGlyphs"><tspan>3</tspan></text>
<text x="424.00" y="635.10" font-size="16.77" fill="#505050" stroke="#505050" stroke-width="0.32" textLength="96.30" lengthAdjust="spacingAndGlyphs"><tspan>Con dos maximetros</tspan></text>
<rect x="424.00" y="645.00" width="123.00" height="23.40" rx="8" ry="8" fill="#a5c291"/>
<text x="485.50" y="661.50" font-size="14.98" fill="#f6fcef" stroke="#f6fcef" stroke-width="0.32" text-anchor="middle" textLength="105.00" lengthAdjust="spacingAndGlyphs"><tspan>P</tspan><tspan font-size="10.19" dy="4.79">F</tspan><tspan dy="-4.79"> = P</tspan><tspan font-size="10.19" dy="4.79">12</tspan><tspan dy="-4.79"> + 0,2 (P</tspan><tspan font-size="10.19" dy="4.79">HV</tspan><tspan dy="-4.79"> - P</tspan><tspan font-size="10.19" dy="4.79">12</tspan><tspan dy="-4.79">)</tspan></text>
<text x="423.00" y="690.10" font-size="13.98" fill="#505050" stroke="#505050" stroke-width="0.32" textLength="178.00" lengthAdjust="spacingAndGlyphs"><tspan>P</tspan><tspan font-size="9.51" dy="4.47">12</tspan><tspan dy="-4.47"> = Potencia resultante de aplicar la fórmula</tspan></text>
<text x="440.00" y="704.20" font-size="13.98" fill="#505050" stroke="#505050" stroke-width="0.32" textLength="202.60" lengthAdjust="spacingAndGlyphs"><tspan>de un sólo maximetro a la P</tspan><tspan font-size="9.51" dy="4.47">R</tspan><tspan dy="-4.47"> en horas punta y llano.</tspan></text>
<ellipse cx="411.80" cy="736.50" rx="7" ry="9" fill="#9dbb89"/>
<text x="411.80" y="740.80" font-size="12.84" fill="#f4f9ee" stroke="#f4f9ee" stroke-width="0.32" text-anchor="middle" textLength="4.81" lengthAdjust="spacingAndGlyphs"><tspan>4</tspan></text>
<text x="424.00" y="741.80" font-size="16.77" fill="#505050" stroke="#505050" stroke-width="0.32" textLength="97.00" lengthAdjust="spacingAndGlyphs"><tspan>Con tres maximetros</tspan></text>
<rect x="424.00" y="753.80" width="208.00" height="22.90" rx="8" ry="8" fill="#a5c291"/>
<text x="528.00" y="770.00" font-size="14.98" fill="#f6fcef" stroke="#f6fcef" stroke-width="0.32" text-anchor="middle" textLength="188.00" lengthAdjust="spacingAndGlyphs"><tspan>P</tspan><tspan font-size="10.19" dy="4.79">F</tspan><tspan dy="-4.79"> = P</tspan><tspan font-size="10.19" dy="4.79">HP</tspan><tspan dy="-4.79"> + 0,5 (P</tspan><tspan font-size="10.19" dy="4.79">HLL</tspan><tspan dy="-4.79"> - P</tspan><tspan font-size="10.19" dy="4.79">HP</tspan><tspan dy="-4.79">) + 0,2 (P</tspan><tspan font-size="10.19" dy="4.79">HV</tspan><tspan dy="-4.79"> - P</tspan><tspan font-size="10.19" dy="4.79">HLL</tspan><tspan dy="-4.79">)</tspan></text>
<ellipse cx="411.80" cy="815.00" rx="7" ry="9" fill="#9dbb89"/>
<text x="411.80" y="819.30" font-size="12.84" fill="#f4f9ee" stroke="#f4f9ee" stroke-width="0.32" text-anchor="middle" textLength="4.81" lengthAdjust="spacingAndGlyphs"><tspan>5</tspan></text>
<text x="424.00" y="820.60" font-size="16.77" fill="#505050" stroke="#505050" stroke-width="0.32" textLength="46.00" lengthAdjust="spacingAndGlyphs"><tspan>Estacional</tspan></text>
<text x="414.00" y="848.60" font-size="13.42" fill="#505050" stroke="#505050" stroke-width="0.32" text-anchor="middle" textLength="11.50" lengthAdjust="spacingAndGlyphs"><tspan>(A)</tspan></text>
<rect x="424.00" y="832.00" width="318.00" height="23.00" rx="8" ry="8" fill="#a5c291"/>
<text x="583.00" y="848.50" font-size="14.98" fill="#f6fcef" stroke="#f6fcef" stroke-width="0.32" text-anchor="middle" textLength="298.00" lengthAdjust="spacingAndGlyphs"><tspan>P</tspan><tspan font-size="10.19" dy="4.79">F</tspan><tspan dy="-4.79"> = 1,2 P</tspan><tspan font-size="10.19" dy="4.79">1</tspan><tspan dy="-4.79"> + (P</tspan><tspan font-size="10.19" dy="4.79">2</tspan><tspan dy="-4.79"> - P</tspan><tspan font-size="10.19" dy="4.79">1</tspan><tspan dy="-4.79">) + 0,5 (P</tspan><tspan font-size="10.19" dy="4.79">3</tspan><tspan dy="-4.79"> - P</tspan><tspan font-size="10.19" dy="4.79">2</tspan><tspan dy="-4.79">) + 0,25 (P</tspan><tspan font-size="10.19" dy="4.79">4</tspan><tspan dy="-4.79"> - P</tspan><tspan font-size="10.19" dy="4.79">3</tspan><tspan dy="-4.79">) + 0,10 (P</tspan><tspan font-size="10.19" dy="4.79">5</tspan><tspan dy="-4.79"> - P</tspan><tspan font-size="10.19" dy="4.79">4</tspan><tspan dy="-4.79">) + 0,05 (P</tspan><tspan font-size="10.19" dy="4.79">6</tspan><tspan dy="-4.79"> - P</tspan><tspan font-size="10.19" dy="4.79">5</tspan><tspan dy="-4.79">)</tspan></text>
<text x="414.00" y="889.10" font-size="13.42" fill="#505050" stroke="#505050" stroke-width="0.32" text-anchor="middle" textLength="11.50" lengthAdjust="spacingAndGlyphs"><tspan>(B)</tspan></text>
<rect x="424.00" y="871.50" width="191.00" height="23.50" rx="8" ry="8" fill="#a5c291"/>
<text x="519.50" y="888.00" font-size="14.98" fill="#f6fcef" stroke="#f6fcef" stroke-width="0.32" text-anchor="middle" textLength="174.00" lengthAdjust="spacingAndGlyphs"><tspan>P</tspan><tspan font-size="10.19" dy="4.79">F</tspan><tspan dy="-4.79"> = Máximo (1,1 P</tspan><tspan font-size="10.19" dy="4.79">A</tspan><tspan dy="-4.79"> ; 0,75 P</tspan><tspan font-size="10.19" dy="4.79">M</tspan><tspan dy="-4.79"> ; 0,45 P</tspan><tspan font-size="10.19" dy="4.79">B</tspan><tspan dy="-4.79">)</tspan></text>
<ellipse cx="406.00" cy="946.50" rx="9.5" ry="13.7" fill="#4e8d2f"/>
<text x="406.00" y="952.80" font-size="19.26" fill="#eef8e4" stroke="#eef8e4" stroke-width="0.5" text-anchor="middle" textLength="7.01" lengthAdjust="spacingAndGlyphs"><tspan>2</tspan></text>
<text x="421.00" y="954.00" font-size="23.11" fill="#5b8c45" stroke="#5b8c45" stroke-width="0.5" textLength="182.00" lengthAdjust="spacingAndGlyphs"><tspan>Cuota término de energía</tspan></text>
<rect x="524.00" y="982.00" width="128.00" height="52.00" rx="8" ry="8" fill="#a5c291"/>
<text x="588.00" y="1005.00" font-size="17.98" fill="#f6fcef" stroke="#f6fcef" stroke-width="0.32" text-anchor="middle" textLength="77.00" lengthAdjust="spacingAndGlyphs"><tspan>Cuota término</tspan></text>
<text x="588.00" y="1023.70" font-size="17.98" fill="#f6fcef" stroke="#f6fcef" stroke-width="0.32" text-anchor="middle" textLength="57.00" lengthAdjust="spacingAndGlyphs"><tspan>de energía</tspan></text>
<rect x="661.00" y="1006.50" width="9.00" height="3.00" rx="0" ry="0" fill="#587a4b"/>
<rect x="661.00" y="1012.50" width="9.00" height="3.00" rx="0" ry="0" fill="#587a4b"/>
<rect x="429.50" y="1074.50" width="8.50" height="3.00" rx="0" ry="0" fill="#587a4b"/>
<rect x="429.50" y="1080.50" width="8.50" height="3.00" rx="0" ry="0" fill="#587a4b"/>
<rect x="447.00" y="1049.00" width="128.80" height="51.70" rx="8" ry="8" fill="#a5c291"/>
<text x="511.40" y="1072.00" font-size="17.98" fill="#f6fcef" stroke="#f6fcef" stroke-width="0.32" text-anchor="middle" textLength="76.00" lengthAdjust="spacingAndGlyphs"><tspan>Energía activa</tspan></text>
<text x="511.40" y="1090.70" font-size="17.98" fill="#f6fcef" stroke="#f6fcef" stroke-width="0.32" text-anchor="middle" textLength="60.00" lengthAdjust="spacingAndGlyphs"><tspan>consumida</tspan></text>
<text x="588.00" y="1084.00" font-size="17.66" fill="#587a4b" stroke="#587a4b" stroke-width="0.5" font-weight="bold" text-anchor="middle" textLength="10.00" lengthAdjust="spacingAndGlyphs"><tspan>X</tspan></text>
<rect x="601.00" y="1049.00" width="128.50" height="51.70" rx="8" ry="8" fill="#a5c291"/>
<text x="665.20" y="1072.00" font-size="17.98" fill="#f6fcef" stroke="#f6fcef" stroke-width="0.32" text-anchor="middle" textLength="45.00" lengthAdjust="spacingAndGlyphs"><tspan>Término</tspan></text>
<text x="665.20" y="1090.70" font-size="17.98" fill="#f6fcef" stroke="#f6fcef" stroke-width="0.32" text-anchor="middle" textLength="79.00" lengthAdjust="spacingAndGlyphs"><tspan>de energía (Te)</tspan></text>
<ellipse cx="782.20" cy="100.20" rx="9.5" ry="13.7" fill="#4e8d2f"/>
<text x="782.20" y="106.50" font-size="19.26" fill="#eef8e4" stroke="#eef8e4" stroke-width="0.5" text-anchor="middle" textLength="7.01" lengthAdjust="spacingAndGlyphs"><tspan>3</tspan></text>
<text x="796.50" y="107.60" font-size="23.11" fill="#5b8c45" stroke="#5b8c45" stroke-width="0.5" textLength="249.50" lengthAdjust="spacingAndGlyphs"><tspan>Complemento por energía reactiva</tspan></text>
<text x="773.50" y="137.20" font-size="15.21" fill="#505050" stroke="#505050" stroke-width="0.32" textLength="372.00" lengthAdjust="spacingAndGlyphs"><tspan>Para facturar este complemento es necesario  tener instalado contador de energía</tspan></text>
<text x="773.50" y="155.50" font-size="15.21" fill="#505050" stroke="#505050" stroke-width="0.32" textLength="37.50" lengthAdjust="spacingAndGlyphs"><tspan>reactiva.</tspan></text>
<text x="801.00" y="182.00" font-size="16.91" fill="#62934b" stroke="#62934b" stroke-width="0.4" textLength="126.80" lengthAdjust="spacingAndGlyphs"><tspan>Factor de corrección Kr:</tspan></text>
<text x="1025.00" y="175.80" font-size="16.91" fill="#62934b" stroke="#62934b" stroke-width="0.4" textLength="102.00" lengthAdjust="spacingAndGlyphs"><tspan>Factor de potencia:</tspan></text>
<text x="750.00" y="223.60" font-size="16.21" fill="#505050" stroke="#505050" stroke-width="0.32" textLength="94.00" lengthAdjust="spacingAndGlyphs"><tspan>Para 1≥ cos ψ &gt;0,95</tspan></text>
<rect x="850.00" y="194.70" width="127.80" height="51.90" rx="9" ry="9" fill="#a5c291"/>
<text x="854.00" y="222.70" font-size="13.91" fill="#f6fcef" stroke="#f6fcef" stroke-width="0.32" textLength="33.00" lengthAdjust="spacingAndGlyphs"><tspan>Kr (%)=</tspan></text>
<rect x="887" y="217" width="49.6" height="1.3" fill="#f6fcef"/>
<text x="912.40" y="212.50" font-size="16.05" fill="#f6fcef" stroke="#f6fcef" stroke-width="0.32" text-anchor="middle" textLength="30.00" lengthAdjust="spacingAndGlyphs"><tspan>37,026</tspan></text>
<text x="912.40" y="236.50" font-size="14.98" fill="#f6fcef" stroke="#f6fcef" stroke-width="0.32" text-anchor="middle" textLength="25.00" lengthAdjust="spacingAndGlyphs"><tspan>cos</tspan><tspan font-size="10.19" dy="-5.69">2</tspan><tspan dy="5.69"> ψ</tspan></text>
<text x="937.00" y="222.70" font-size="14.98" fill="#f6fcef" stroke="#f6fcef" stroke-width="0.32" textLength="37.00" lengthAdjust="spacingAndGlyphs"><tspan>-41,026</tspan></text>
<text x="765.00" y="267.60" font-size="15.65" fill="#505050" stroke="#505050" stroke-width="0.32" textLength="118.00" lengthAdjust="spacingAndGlyphs"><tspan>Bonificación(</tspan><tspan font-weight="bold">Kr</tspan><tspan> negativo)</tspan></text>
<path d="M886.00 261.50 L897.00 261.50" fill="none" stroke="#a3bc8f" stroke-width="4" stroke-linejoin="miter" stroke-linecap="butt"/>
<path d="M906.00 261.50 L895.00 255.00 L897.50 261.50 L895.00 268.00Z" fill="#a3bc8f"/>
<text x="909.60" y="267.60" font-size="15.65" fill="#505050" stroke="#505050" stroke-width="0.32" textLength="53.40" lengthAdjust="spacingAndGlyphs"><tspan>máximo 4%</tspan></text>
<text x="770.00" y="311.30" font-size="16.21" fill="#505050" stroke="#505050" stroke-width="0.32" textLength="115.00" lengthAdjust="spacingAndGlyphs"><tspan>Para 0,95 ≥ cos ψ ≥ 0,90</tspan></text>
<rect x="895.00" y="290.60" width="82.80" height="28.60" rx="9" ry="9" fill="#a5c291"/>
<text x="915.70" y="311.80" font-size="14.45" fill="#f6fcef" stroke="#f6fcef" stroke-width="0.32" textLength="41.30" lengthAdjust="spacingAndGlyphs"><tspan>Kr (%)= 0</tspan></text>
<text x="760.00" y="371.40" font-size="16.21" fill="#505050" stroke="#505050" stroke-width="0.32" textLength="82.50" lengthAdjust="spacingAndGlyphs"><tspan>Para  cos ψ &lt; 0,90</tspan></text>
<rect x="850.40" y="342.50" width="127.40" height="50.90" rx="9" ry="9" fill="#a5c291"/>
<text x="863.70" y="370.00" font-size="13.91" fill="#f6fcef" stroke="#f6fcef" stroke-width="0.32" textLength="34.00" lengthAdjust="spacingAndGlyphs"><tspan>Kr (%)=</tspan></text>
<rect x="897.7" y="364.2" width="48.7" height="1.3" fill="#f6fcef"/>
<text x="922.00" y="359.50" font-size="16.05" fill="#f6fcef" stroke="#f6fcef" stroke-width="0.32" text-anchor="middle" textLength="26.00" lengthAdjust="spacingAndGlyphs"><tspan>29,16</tspan></text>
<text x="922.00" y="383.00" font-size="14.98" fill="#f6fcef" stroke="#f6fcef" stroke-width="0.32" text-anchor="middle" textLength="25.00" lengthAdjust="spacingAndGlyphs"><tspan>cos</tspan><tspan font-size="10.19" dy="-5.69">2</tspan><tspan dy="5.69"> ψ</tspan></text>
<text x="947.50" y="370.00" font-size="14.98" fill="#f6fcef" stroke="#f6fcef" stroke-width="0.32" textLength="17.00" lengthAdjust="spacingAndGlyphs"><tspan>-36</tspan></text>
<text x="774.70" y="414.20" font-size="15.65" fill="#505050" stroke="#505050" stroke-width="0.32" textLength="95.40" lengthAdjust="spacingAndGlyphs"><tspan>Recargo(</tspan><tspan font-weight="bold">Kr</tspan><tspan> positivo)</tspan></text>
<path d="M874.30 409.00 L882.30 409.00" fill="none" stroke="#a3bc8f" stroke-width="4" stroke-linejoin="miter" stroke-linecap="butt"/>
<path d="M891.30 409.00 L880.30 402.50 L882.80 409.00 L880.30 415.50Z" fill="#a3bc8f"/>
<text x="897.20" y="414.20" font-size="15.65" fill="#505050" stroke="#505050" stroke-width="0.32" textLength="66.20" lengthAdjust="spacingAndGlyphs"><tspan>máximo 50,7%</tspan></text>
<rect x="1012.80" y="188.50" width="127.20" height="61.30" rx="9" ry="9" fill="#a5c291"/>
<text x="1021.80" y="214.30" font-size="14.45" fill="#f6fcef" stroke="#f6fcef" stroke-width="0.32" textLength="34.00" lengthAdjust="spacingAndGlyphs"><tspan>cos ψ =</tspan></text>
<rect x="1061.8" y="208.5" width="68.7" height="1.4" fill="#f6fcef"/>
<text x="1095.60" y="200.80" font-size="14.98" fill="#f6fcef" stroke="#f6fcef" stroke-width="0.32" text-anchor="middle" textLength="15.00" lengthAdjust="spacingAndGlyphs"><tspan>Wa</tspan></text>
<path d="M1060 229 L1063 227.5 L1067.6 242 L1070.5 216 L1125 216" fill="none" stroke="#f6fcef" stroke-width="1.3"/>
<text x="1073.50" y="239.70" font-size="13.91" fill="#f6fcef" stroke="#f6fcef" stroke-width="0.32" textLength="47.50" lengthAdjust="spacingAndGlyphs"><tspan>Wa</tspan><tspan font-size="9.46" dy="-5.29">2</tspan><tspan dy="5.29"> + Wr</tspan><tspan font-size="9.46" dy="-5.29">2</tspan></text>
<text x="1011.70" y="267.60" font-size="15.65" fill="#505050" stroke="#505050" stroke-width="0.32" textLength="93.00" lengthAdjust="spacingAndGlyphs"><tspan>Dos cifras decimales</tspan></text>
<text x="1023.70" y="289.40" font-size="15.1" fill="#505050" stroke="#505050" stroke-width="0.32" textLength="90.00" lengthAdjust="spacingAndGlyphs"><tspan font-weight="bold">Wa</tspan><tspan> = Energía activa</tspan></text>
<text x="1049.00" y="304.00" font-size="15.1" fill="#505050" stroke="#505050" stroke-width="0.32" textLength="86.70" lengthAdjust="spacingAndGlyphs"><tspan>registrada en kWh.</tspan></text>
<text x="1023.70" y="323.00" font-size="15.1" fill="#505050" stroke="#505050" stroke-width="0.32" textLength="97.00" lengthAdjust="spacingAndGlyphs"><tspan font-weight="bold">Wr</tspan><tspan> = Energía reactiva</tspan></text>
<text x="1047.00" y="338.60" font-size="15.1" fill="#505050" stroke="#505050" stroke-width="0.32" textLength="94.00" lengthAdjust="spacingAndGlyphs"><tspan>registrada en kVArh.</tspan></text>
<ellipse cx="782.20" cy="438.80" rx="9.5" ry="13.7" fill="#4e8d2f"/>
<text x="782.20" y="445.10" font-size="19.26" fill="#eef8e4" stroke="#eef8e4" stroke-width="0.5" text-anchor="middle" textLength="7.01" lengthAdjust="spacingAndGlyphs"><tspan>4</tspan></text>
<text x="796.50" y="446.50" font-size="23.11" fill="#5b8c45" stroke="#5b8c45" stroke-width="0.5" textLength="295.50" lengthAdjust="spacingAndGlyphs"><tspan>Complemento por discriminación horaria</tspan></text>
<rect x="886.00" y="462.00" width="171.30" height="35.70" rx="9" ry="9" fill="#a5c291"/>
<text x="905.00" y="488.70" font-size="21.94" fill="#f6fcef" stroke="#f6fcef" stroke-width="0.32" textLength="52.00" lengthAdjust="spacingAndGlyphs"><tspan>CH = Tej</tspan></text>
<path d="M968 468.5 Q972 471 967.5 474.5 L962 481 L970 493" fill="none" stroke="#f6fcef" stroke-width="1.6"/>
<text x="971.00" y="488.70" font-size="21.94" fill="#f6fcef" stroke="#f6fcef" stroke-width="0.32" textLength="65.50" lengthAdjust="spacingAndGlyphs"><tspan>E</tspan><tspan font-size="14.92" dy="7.02">i</tspan><tspan dy="-7.02"> C</tspan><tspan font-size="14.92" dy="7.02">i</tspan><tspan dy="-7.02"> / 100</tspan></text>
<text x="847.00" y="522.60" font-size="15.65" fill="#505050" stroke="#505050" stroke-width="0.32" text-anchor="end" textLength="15.77" lengthAdjust="spacingAndGlyphs" font-weight="bold"><tspan>CH</tspan></text>
<text x="853.00" y="522.60" font-size="14.54" fill="#505050" stroke="#505050" stroke-width="0.32" text-anchor="middle" textLength="6.00" lengthAdjust="spacingAndGlyphs"><tspan>=</tspan></text>
<text x="858.00" y="522.60" font-size="15.65" fill="#505050" stroke="#505050" stroke-width="0.32" textLength="147.00" lengthAdjust="spacingAndGlyphs"><tspan>Recargo o descuento, en euros.</tspan></text>
<text x="847.00" y="543.40" font-size="15.65" fill="#505050" stroke="#505050" stroke-width="0.32" text-anchor="end" textLength="8.93" lengthAdjust="spacingAndGlyphs" font-weight="bold"><tspan>E</tspan><tspan font-size="10.64" dy="5.01">i</tspan></text>
<text x="853.00" y="543.40" font-size="14.54" fill="#505050" stroke="#505050" stroke-width="0.32" text-anchor="middle" textLength="6.00" lengthAdjust="spacingAndGlyphs"><tspan>=</tspan></text>
<text x="858.00" y="543.40" font-size="15.65" fill="#505050" stroke="#505050" stroke-width="0.32" textLength="243.50" lengthAdjust="spacingAndGlyphs"><tspan>Energía consumida en cada periodo horario según el</tspan></text>
<text x="857.40" y="560.80" font-size="15.65" fill="#2e2e2e" stroke="#2e2e2e" stroke-width="0.32" font-weight="bold" textLength="240.60" lengthAdjust="spacingAndGlyphs"><tspan>tipo de discriminación horaria contratada, en kWh.</tspan></text>
<text x="847.00" y="582.60" font-size="15.65" fill="#505050" stroke="#505050" stroke-width="0.32" text-anchor="end" textLength="9.54" lengthAdjust="spacingAndGlyphs" font-weight="bold"><tspan>C</tspan><tspan font-size="10.64" dy="5.01">i</tspan></text>
<text x="853.00" y="582.60" font-size="14.54" fill="#505050" stroke="#505050" stroke-width="0.32" text-anchor="middle" textLength="6.00" lengthAdjust="spacingAndGlyphs"><tspan>=</tspan></text>
<text x="859.00" y="582.60" font-size="15.65" fill="#505050" stroke="#505050" stroke-width="0.32" textLength="242.50" lengthAdjust="spacingAndGlyphs"><tspan>Coeficiente de recargo o descuento en cada periodo</tspan></text>
<text x="857.40" y="598.40" font-size="15.65" fill="#505050" stroke="#505050" stroke-width="0.32" textLength="226.60" lengthAdjust="spacingAndGlyphs"><tspan>horario, según </tspan><tspan font-weight="bold">el tipo de discriminación horaria.</tspan></text>
<text x="847.00" y="621.00" font-size="15.65" fill="#505050" stroke="#505050" stroke-width="0.32" text-anchor="end" textLength="13.96" lengthAdjust="spacingAndGlyphs" font-weight="bold"><tspan>Tej</tspan></text>
<text x="853.00" y="621.00" font-size="14.54" fill="#505050" stroke="#505050" stroke-width="0.32" text-anchor="middle" textLength="6.00" lengthAdjust="spacingAndGlyphs"><tspan>=</tspan></text>
<text x="860.00" y="621.00" font-size="15.65" fill="#505050" stroke="#505050" stroke-width="0.32" textLength="186.00" lengthAdjust="spacingAndGlyphs"><tspan>Precio de referencia en €/kWh, idéntico</tspan></text>
<text x="857.40" y="638.40" font-size="15.65" fill="#505050" stroke="#505050" stroke-width="0.32" textLength="226.60" lengthAdjust="spacingAndGlyphs"><tspan>para todas las tarifas del mismo nivel de tensión.</tspan></text>
<ellipse cx="782.20" cy="657.80" rx="9.5" ry="13.7" fill="#4e8d2f"/>
<text x="782.20" y="664.10" font-size="19.26" fill="#eef8e4" stroke="#eef8e4" stroke-width="0.5" text-anchor="middle" textLength="7.01" lengthAdjust="spacingAndGlyphs"><tspan>6</tspan></text>
<text x="796.50" y="666.60" font-size="23.11" fill="#5b8c45" stroke="#5b8c45" stroke-width="0.5" textLength="215.50" lengthAdjust="spacingAndGlyphs"><tspan>Impuesto sobre la electricidad</tspan></text>
<text x="772.00" y="701.40" font-size="15.21" fill="#505050" stroke="#505050" stroke-width="0.32" textLength="373.00" lengthAdjust="spacingAndGlyphs"><tspan>4,864% sobre el resultado de multiplicar 1,05113 por la suma de los importes de</tspan></text>
<text x="772.00" y="718.00" font-size="15.21" fill="#505050" stroke="#505050" stroke-width="0.32" textLength="373.00" lengthAdjust="spacingAndGlyphs"><tspan>cuota término de potencia, cuota término de energía y complementos de energía</tspan></text>
<text x="772.00" y="734.80" font-size="15.21" fill="#505050" stroke="#505050" stroke-width="0.32" textLength="313.00" lengthAdjust="spacingAndGlyphs"><tspan>reactiva, discriminación horaria, estacionalidad e interrumpibilidad.</tspan></text>
<ellipse cx="782.20" cy="762.20" rx="9.5" ry="13.7" fill="#4e8d2f"/>
<text x="782.20" y="768.50" font-size="19.26" fill="#eef8e4" stroke="#eef8e4" stroke-width="0.5" text-anchor="middle" textLength="7.01" lengthAdjust="spacingAndGlyphs"><tspan>7</tspan></text>
<text x="796.50" y="767.80" font-size="23.11" fill="#5b8c45" stroke="#5b8c45" stroke-width="0.5" textLength="241.00" lengthAdjust="spacingAndGlyphs"><tspan>Alquiler de los equipos de medida</tspan></text>
<rect x="793.7" y="774.8" width="281" height="338.2" rx="11" ry="11" fill="none" stroke="#98ad8b" stroke-width="1.6"/>
<rect x="1018.5" y="783.5" width="1.2" height="319" fill="#c9cdc4"/>
<text x="807.00" y="790.40" font-size="11.34" fill="#6f9a55" stroke="#6f9a55" stroke-width="0.32" textLength="130.40" lengthAdjust="spacingAndGlyphs"><tspan>a) CONTADORES SIMPLE TARIFA:</tspan></text>
<text x="1034.70" y="791.00" font-size="10.96" fill="#505050" stroke="#505050" stroke-width="0.32" textLength="26.00" lengthAdjust="spacingAndGlyphs"><tspan>€/mes</tspan></text>
<text x="816.30" y="810.10" font-size="10.96" fill="#2e2e2e" stroke="#2e2e2e" stroke-width="0.55" textLength="59.20" lengthAdjust="spacingAndGlyphs"><tspan>Energía activa</tspan></text>
<text x="816.30" y="824.00" font-size="10.96" fill="#505050" stroke="#505050" stroke-width="0.32" textLength="54.30" lengthAdjust="spacingAndGlyphs"><tspan>Monofásicos:</tspan></text>
<text x="825.00" y="838.20" font-size="10.96" fill="#505050" stroke="#505050" stroke-width="0.32" textLength="38.30" lengthAdjust="spacingAndGlyphs"><tspan>Tarifa 1.0</tspan></text>
<text x="1057.30" y="838.20" font-size="10.96" fill="#505050" stroke="#505050" stroke-width="0.32" text-anchor="end" textLength="18.40" lengthAdjust="spacingAndGlyphs"><tspan>0,47</tspan></text>
<text x="825.00" y="852.00" font-size="10.96" fill="#505050" stroke="#505050" stroke-width="0.32" textLength="22.60" lengthAdjust="spacingAndGlyphs"><tspan>Resto</tspan></text>
<text x="1057.30" y="852.00" font-size="10.96" fill="#505050" stroke="#505050" stroke-width="0.32" text-anchor="end" textLength="18.40" lengthAdjust="spacingAndGlyphs"><tspan>0,54</tspan></text>
<text x="825.00" y="866.00" font-size="10.96" fill="#505050" stroke="#505050" stroke-width="0.32" textLength="40.00" lengthAdjust="spacingAndGlyphs"><tspan>Trifásicos</tspan></text>
<text x="1057.30" y="866.00" font-size="10.96" fill="#505050" stroke="#505050" stroke-width="0.32" text-anchor="end" textLength="18.40" lengthAdjust="spacingAndGlyphs"><tspan>1,53</tspan></text>
<text x="816.30" y="884.80" font-size="10.96" fill="#2e2e2e" stroke="#2e2e2e" stroke-width="0.55" textLength="67.80" lengthAdjust="spacingAndGlyphs"><tspan>Energía reactiva</tspan></text>
<text x="825.00" y="898.40" font-size="10.96" fill="#505050" stroke="#505050" stroke-width="0.32" textLength="51.50" lengthAdjust="spacingAndGlyphs"><tspan>Monofásicos</tspan></text>
<text x="1057.30" y="898.40" font-size="10.96" fill="#505050" stroke="#505050" stroke-width="0.32" text-anchor="end" textLength="18.40" lengthAdjust="spacingAndGlyphs"><tspan>0,72</tspan></text>
<text x="825.00" y="912.20" font-size="10.96" fill="#505050" stroke="#505050" stroke-width="0.32" textLength="40.00" lengthAdjust="spacingAndGlyphs"><tspan>Trifásicos</tspan></text>
<text x="1057.30" y="912.20" font-size="10.96" fill="#505050" stroke="#505050" stroke-width="0.32" text-anchor="end" textLength="18.40" lengthAdjust="spacingAndGlyphs"><tspan>1,71</tspan></text>
<text x="807.00" y="937.00" font-size="11.34" fill="#6f9a55" stroke="#6f9a55" stroke-width="0.32" textLength="180.80" lengthAdjust="spacingAndGlyphs"><tspan>b) CONTADORES DISCRIMINACIÓN HORARIA:</tspan></text>
<text x="816.30" y="955.40" font-size="10.96" fill="#505050" stroke="#505050" stroke-width="0.32" textLength="107.00" lengthAdjust="spacingAndGlyphs"><tspan>Monofásicos (doble tarifa)</tspan></text>
<text x="1057.30" y="955.40" font-size="10.96" fill="#505050" stroke="#505050" stroke-width="0.32" text-anchor="end" textLength="18.40" lengthAdjust="spacingAndGlyphs"><tspan>1,11</tspan></text>
<text x="816.30" y="969.30" font-size="10.96" fill="#505050" stroke="#505050" stroke-width="0.32" textLength="96.70" lengthAdjust="spacingAndGlyphs"><tspan>Trifásicos (doble tarifa)</tspan></text>
<text x="1057.30" y="969.30" font-size="10.96" fill="#505050" stroke="#505050" stroke-width="0.32" text-anchor="end" textLength="18.40" lengthAdjust="spacingAndGlyphs"><tspan>2,22</tspan></text>
<text x="816.30" y="983.20" font-size="10.96" fill="#505050" stroke="#505050" stroke-width="0.32" textLength="95.00" lengthAdjust="spacingAndGlyphs"><tspan>Trifásicos (triple tarifa)</tspan></text>
<text x="1057.30" y="983.20" font-size="10.96" fill="#505050" stroke="#505050" stroke-width="0.32" text-anchor="end" textLength="18.40" lengthAdjust="spacingAndGlyphs"><tspan>2,79</tspan></text>
<text x="816.30" y="997.80" font-size="10.96" fill="#505050" stroke="#505050" stroke-width="0.32" textLength="40.40" lengthAdjust="spacingAndGlyphs"><tspan>Contactor</tspan></text>
<text x="1057.30" y="997.80" font-size="10.96" fill="#505050" stroke="#505050" stroke-width="0.32" text-anchor="end" textLength="18.40" lengthAdjust="spacingAndGlyphs"><tspan>0,15</tspan></text>
<text x="816.30" y="1011.00" font-size="10.96" fill="#505050" stroke="#505050" stroke-width="0.32" textLength="106.40" lengthAdjust="spacingAndGlyphs"><tspan>Servicio reloj conmutador</tspan></text>
<text x="1057.30" y="1011.00" font-size="10.96" fill="#505050" stroke="#505050" stroke-width="0.32" text-anchor="end" textLength="18.40" lengthAdjust="spacingAndGlyphs"><tspan>0,91</tspan></text>
<text x="807.00" y="1035.80" font-size="11.34" fill="#6f9a55" stroke="#6f9a55" stroke-width="0.32" textLength="179.70" lengthAdjust="spacingAndGlyphs"><tspan>c) INTERRUPTOR DE CONTROL DE POTENCIA</tspan></text>
<text x="816.30" y="1054.50" font-size="10.96" fill="#505050" stroke="#505050" stroke-width="0.32" textLength="34.00" lengthAdjust="spacingAndGlyphs"><tspan>Por polo</tspan></text>
<text x="1057.30" y="1054.50" font-size="10.96" fill="#505050" stroke="#505050" stroke-width="0.32" text-anchor="end" textLength="18.40" lengthAdjust="spacingAndGlyphs"><tspan>0,03</tspan></text>
<text x="806.00" y="1076.50" font-size="13.91" fill="#6f9a55" stroke="#6f9a55" stroke-width="0.32" textLength="9.00" lengthAdjust="spacingAndGlyphs"><tspan>d)</tspan></text>
<text x="816.30" y="1076.50" font-size="11.24" fill="#6f9a55" stroke="#6f9a55" stroke-width="0.32" textLength="158.70" lengthAdjust="spacingAndGlyphs"><tspan>CONTADORES ELECTRÓNICOS CON DH  Y CON</tspan></text>
<text x="816.30" y="1090.40" font-size="11.24" fill="#6f9a55" stroke="#6f9a55" stroke-width="0.32" textLength="184.00" lengthAdjust="spacingAndGlyphs"><tspan>POSIBILIDAD DE TELEGESTIÓN PARA CONSUMIDORES</tspan></text>
<text x="816.30" y="1101.80" font-size="11.24" fill="#6f9a55" stroke="#6f9a55" stroke-width="0.32" textLength="46.30" lengthAdjust="spacingAndGlyphs"><tspan>DOMÉSTICOS</tspan></text>
<text x="1057.30" y="1078.60" font-size="10.96" fill="#505050" stroke="#505050" stroke-width="0.32" text-anchor="end" textLength="18.40" lengthAdjust="spacingAndGlyphs"><tspan>0,81</tspan></text>
<text x="1085.00" y="837.60" font-size="11.29" fill="#505050" stroke="#505050" stroke-width="0.32" textLength="48.47" lengthAdjust="spacingAndGlyphs"><tspan>Para el resto</tspan></text>
<text x="1085.00" y="853.30" font-size="11.29" fill="#505050" stroke="#505050" stroke-width="0.32" textLength="45.15" lengthAdjust="spacingAndGlyphs"><tspan>de aparatos</tspan></text>
<text x="1085.00" y="869.00" font-size="11.29" fill="#505050" stroke="#505050" stroke-width="0.32" textLength="36.59" lengthAdjust="spacingAndGlyphs"><tspan>y equipos</tspan></text>
<text x="1085.00" y="884.70" font-size="11.29" fill="#505050" stroke="#505050" stroke-width="0.32" textLength="36.11" lengthAdjust="spacingAndGlyphs"><tspan>auxiliares</tspan></text>
<text x="1085.00" y="900.40" font-size="11.29" fill="#505050" stroke="#505050" stroke-width="0.32" textLength="39.92" lengthAdjust="spacingAndGlyphs"><tspan>de medida</tspan></text>
<text x="1085.00" y="916.10" font-size="11.29" fill="#505050" stroke="#505050" stroke-width="0.32" textLength="34.68" lengthAdjust="spacingAndGlyphs"><tspan>y control,</tspan></text>
<text x="1085.00" y="931.80" font-size="11.29" fill="#505050" stroke="#505050" stroke-width="0.32" textLength="32.32" lengthAdjust="spacingAndGlyphs"><tspan>el canon</tspan></text>
<text x="1085.00" y="947.50" font-size="11.29" fill="#505050" stroke="#505050" stroke-width="0.32" textLength="39.45" lengthAdjust="spacingAndGlyphs"><tspan>de alquiler</tspan></text>
<text x="1085.00" y="963.20" font-size="11.29" fill="#505050" stroke="#505050" stroke-width="0.32" textLength="57.02" lengthAdjust="spacingAndGlyphs"><tspan>se determinará</tspan></text>
<text x="1085.00" y="978.90" font-size="11.29" fill="#505050" stroke="#505050" stroke-width="0.32" textLength="36.60" lengthAdjust="spacingAndGlyphs"><tspan>aplicando</tspan></text>
<text x="1085.00" y="994.60" font-size="11.29" fill="#505050" stroke="#505050" stroke-width="0.32" textLength="32.80" lengthAdjust="spacingAndGlyphs"><tspan>una tasa</tspan></text>
<text x="1085.00" y="1010.30" font-size="11.29" fill="#505050" stroke="#505050" stroke-width="0.32" textLength="42.78" lengthAdjust="spacingAndGlyphs"><tspan>del 1,125%</tspan></text>
<text x="1085.00" y="1026.00" font-size="11.29" fill="#505050" stroke="#505050" stroke-width="0.32" textLength="32.31" lengthAdjust="spacingAndGlyphs"><tspan>mensual</tspan></text>
<text x="1085.00" y="1041.70" font-size="11.29" fill="#505050" stroke="#505050" stroke-width="0.32" textLength="32.31" lengthAdjust="spacingAndGlyphs"><tspan>al precio</tspan></text>
<text x="1085.00" y="1057.40" font-size="11.29" fill="#505050" stroke="#505050" stroke-width="0.32" textLength="23.28" lengthAdjust="spacingAndGlyphs"><tspan>medio</tspan></text>
<text x="1085.00" y="1073.10" font-size="11.29" fill="#505050" stroke="#505050" stroke-width="0.32" textLength="57.01" lengthAdjust="spacingAndGlyphs"><tspan>de los mismos.</tspan></text>
<ellipse cx="782.20" cy="1131.20" rx="9.5" ry="13.7" fill="#4e8d2f"/>
<text x="782.20" y="1137.50" font-size="19.26" fill="#eef8e4" stroke="#eef8e4" stroke-width="0.5" text-anchor="middle" textLength="7.01" lengthAdjust="spacingAndGlyphs"><tspan>8</tspan></text>
<text x="796.50" y="1137.00" font-size="23.11" fill="#5b8c45" stroke="#5b8c45" stroke-width="0.5" textLength="168.50" lengthAdjust="spacingAndGlyphs"><tspan>I.V.A. según tipo vigente</tspan></text>
</svg></body></html>
